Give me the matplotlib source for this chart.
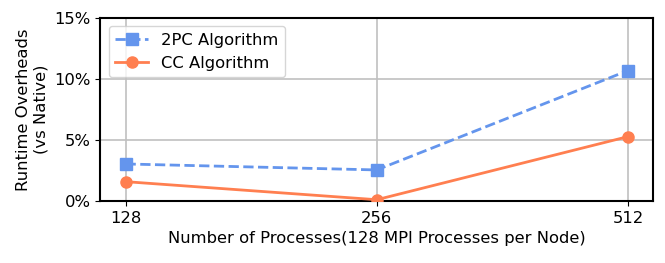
import matplotlib
matplotlib.use('Agg')
import matplotlib.pyplot as plt
from matplotlib.ticker import FuncFormatter

# Data
procs = ['128', '256', '512']
overhead_2pc = [3.03, 2.54, 10.68]
overhead_cc = [1.58, 0.1, 5.27]

plt.rcParams['font.size'] = 11.8

fig, ax = plt.subplots(figsize=(6.65, 2.63), dpi=100)
x = list(range(len(procs)))

ax.plot(x, overhead_2pc, '--s', color='cornflowerblue', linewidth=2, markersize=8,
        label='2PC Algorithm', zorder=3)
ax.plot(x, overhead_cc, '-o', color='coral', linewidth=2, markersize=8,
        label='CC Algorithm', zorder=3)

ax.set_xticks(x)
ax.set_xticklabels(procs)
ax.set_xlim(-0.1, 2.1)
ax.set_ylim(0, 15)
ax.set_yticks([0, 5, 10, 15])
ax.yaxis.set_major_formatter(FuncFormatter(lambda v, p: f'{v:.0f}%'))
ax.grid(True, color='#c0c0c0', linewidth=1.2)
ax.set_axisbelow(True)
for s in ax.spines.values():
    s.set_linewidth(1.5)

ax.set_xlabel('Number of Processes(128 MPI Processes per Node)')
ax.set_ylabel('Runtime Overheads\n(vs Native)')
ax.legend(loc='upper left')

plt.subplots_adjust(left=0.151, right=0.982, top=0.932, bottom=0.236)
plt.savefig('out.png')
